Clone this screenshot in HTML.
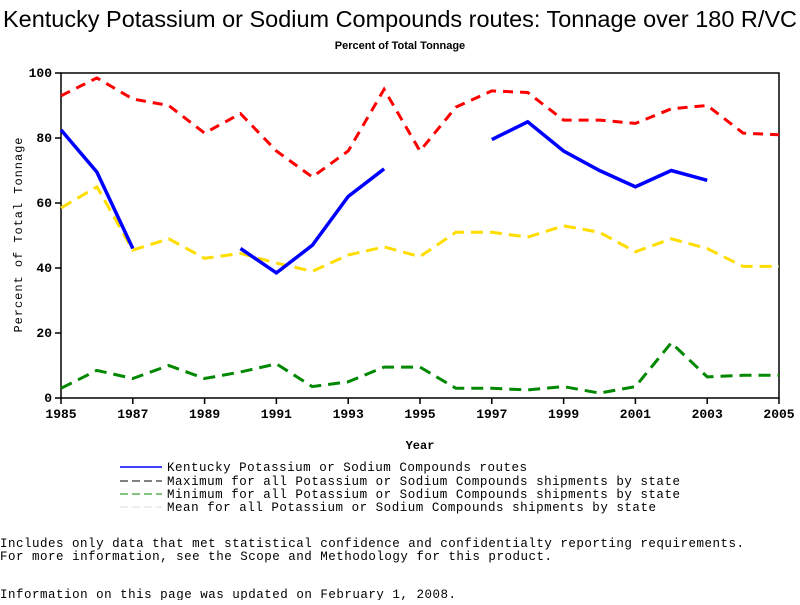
<!DOCTYPE html>
<html><head><meta charset="utf-8"><style>
body{margin:0;background:#fff;width:800px;height:600px;overflow:hidden;font-family:"Liberation Sans",sans-serif}
svg text{font-family:"Liberation Mono",monospace}
</style></head><body>
<svg id="c" width="800" height="600">
<text x="400" y="27" text-anchor="middle" font-size="23.5" textLength="794" lengthAdjust="spacingAndGlyphs" style="font-family:'Liberation Sans',sans-serif">Kentucky Potassium or Sodium Compounds routes: Tonnage over 180 R/VC</text>
<text x="400" y="49" text-anchor="middle" font-size="11" font-weight="bold" style="font-family:'Liberation Sans',sans-serif">Percent of Total Tonnage</text>
<rect x="61" y="73" width="718" height="325" fill="none" stroke="#000" stroke-width="1.5"/>
<g id="ticks"></g>
<g id="lines"></g>
<text x="420" y="449" text-anchor="middle" font-size="12" font-weight="bold">Year</text>
<text transform="translate(22,235) rotate(-90)" text-anchor="middle" font-size="12" textLength="195">Percent of Total Tonnage</text>
<g font-size="12.5">
<line x1="120" y1="467" x2="162" y2="467" stroke="#00f" stroke-width="1.5"/>
<text x="167" y="471" textLength="360">Kentucky Potassium or Sodium Compounds routes</text>
<line x1="120" y1="481" x2="162" y2="481" stroke="#000" stroke-dasharray="8,4"/>
<text x="167" y="485" textLength="513">Maximum for all Potassium or Sodium Compounds shipments by state</text>
<line x1="120" y1="494" x2="162" y2="494" stroke="#080" stroke-dasharray="8,4"/>
<text x="167" y="498" textLength="513">Minimum for all Potassium or Sodium Compounds shipments by state</text>
<line x1="120" y1="507" x2="162" y2="507" stroke="#ddd" stroke-dasharray="8,4"/>
<text x="167" y="511" textLength="489">Mean for all Potassium or Sodium Compounds shipments by state</text>
</g>
<g font-size="12.5">
<text x="0" y="547" textLength="744">Includes only data that met statistical confidence and confidentialty reporting requirements.</text>
<text x="0" y="560" textLength="552">For more information, see the Scope and Methodology for this product.</text>
<text x="0" y="598" textLength="456">Information on this page was updated on February 1, 2008.</text>
</g>
</svg>
<script>
const years=[1985,1986,1987,1988,1989,1990,1991,1992,1993,1994,1995,1996,1997,1998,1999,2000,2001,2002,2003,2004,2005];
const maxVals=[93,98.5,92,90,81.5,87.5,76,68,76,95,76,89.5,94.5,94,85.5,85.5,84.5,89,90,81.5,81];
const meanVals=[58.5,65,45.5,49,43,44.5,41.5,39,44,46.5,43.5,51,51,49.5,53,51,45,49,46,40.5,40.5];
const minVals=[3,8.5,6,10,6,8,10.5,3.5,5,9.5,9.5,3,3,2.5,3.5,1.5,3.5,17,6.5,7,7];
const kyVals=[82.5,69.5,46,null,null,46,38.5,47,62,70.5,null,null,79.5,85,76,70,65,70,67,null,null];
const xTicks=[1985,1987,1989,1991,1993,1995,1997,1999,2001,2003,2005];
const yTicks=[0,20,40,60,80,100];
const X=y=>61+(y-1985)*718/20, Y=v=>398-v*3.25;
const NS='http://www.w3.org/2000/svg';
const tg=document.getElementById('ticks'), lg=document.getElementById('lines');
function mk(p,tag,a){const e=document.createElementNS(NS,tag);for(const k in a)e.setAttribute(k,a[k]);p.appendChild(e);return e;}
xTicks.forEach(t=>{
 const l=mk(tg,'line',{x1:X(t),x2:X(t),y1:398,y2:404,stroke:'#000','stroke-width':1.5});
 
 
 const tx=mk(tg,'text',{x:X(t),y:418,'text-anchor':'middle','font-size':13,'font-weight':'bold'});tx.textContent=t;
 
 
});
yTicks.forEach(t=>{
 const l=mk(tg,'line',{x1:55,x2:61,y1:Y(t),y2:Y(t),stroke:'#000','stroke-width':1.5});
 
 
 const tx=mk(tg,'text',{x:52,y:Y(t)+4,'text-anchor':'end','font-size':13,'font-weight':'bold'});tx.textContent=t;
 
 
});
function draw(vals,color,w,dash,name){
 let d='',pen=false;
 vals.forEach((v,i)=>{if(v==null){pen=false;return;}d+=(pen?'L':'M')+X(years[i]).toFixed(1)+','+Y(v).toFixed(1);pen=true;});
 const p=mk(lg,'path',{d:d,fill:'none',stroke:color,'stroke-width':w});
 if(dash)p.setAttribute('stroke-dasharray',dash);
 
 
}
draw(maxVals,'#f00',3,'10,7','max-line');
draw(meanVals,'#fd0',3,'12,7','mean-line');
draw(minVals,'#080',3,'12,7','min-line');
draw(kyVals,'#00f',3.5,null,'kentucky-line');
</script>
</body></html>
